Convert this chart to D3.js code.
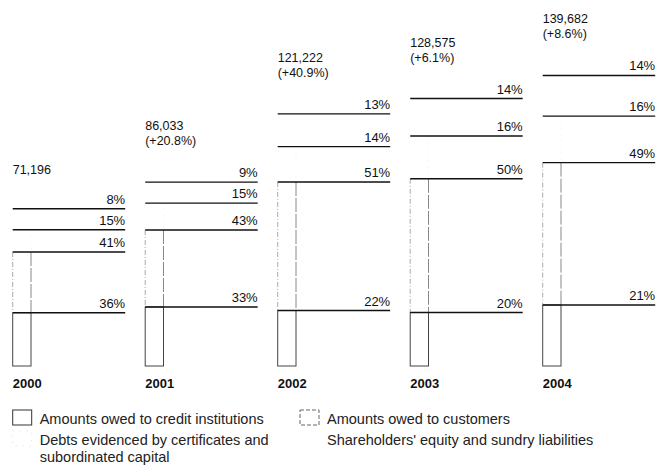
<!DOCTYPE html>
<html>
<head>
<meta charset="utf-8">
<script src="https://cdn.jsdelivr.net/npm/d3@7"></script>
<style>
  html, body { margin: 0; padding: 0; background: #fff; }
  svg { display: block; font-family: "Liberation Sans", Arial, sans-serif; }
</style>
</head>
<body>
<svg id="chart" width="658" height="473"></svg>
<script>
// ---- data ----
const years = ["2000", "2001", "2002", "2003", "2004"];
const totals = [71196, 86033, 121222, 128575, 139682];
const changes = [null, "+20.8%", "+40.9%", "+6.1%", "+8.6%"];
const creditInstitutions = [36, 33, 22, 20, 21];
const customers = [41, 43, 51, 50, 49];
const debts = [15, 15, 14, 16, 16];
const equity = [8, 9, 13, 14, 14];
const seriesNames = [
  "Amounts owed to credit institutions",
  "Amounts owed to customers",
  "Debts evidenced by certificates and subordinated capital",
  "Shareholders' equity and sundry liabilities"
];

// ---- layout ----
const svg = d3.select("#chart");
const baseY = 366;
const x = d3.scaleBand().domain(years).range([12.7, 655.2]).paddingInner(0.151).paddingOuter(0);
const y = d3.scaleLinear().domain([0, 140000]).range([baseY, baseY - 291.2]);
const barW = 18.3;
const minGap = 21;

const seriesPct = [creditInstitutions, customers, debts, equity];

years.forEach((yr, i) => {
  const g = svg.append("g");
  const x0 = x(yr);
  const x1 = x0 + x.bandwidth();
  let cum = 0;
  let prevLineY = baseY + 100;
  const segs = [];
  seriesPct.forEach((arr, s) => {
    const pct = arr[i];
    const yBot = y(totals[i] * cum / 100);
    cum += pct;
    const yTop = y(totals[i] * cum / 100);
    const lineY = Math.min(yTop, prevLineY - minGap);
    segs.push({s, pct, yBot, yTop, lineY});
    prevLineY = lineY;
  });

  // bar segments
  segs.forEach(d => {
    if (d.s === 0) {
      g.append("rect").attr("x", x0).attr("y", d.yTop).attr("width", barW)
        .attr("height", d.yBot - d.yTop).attr("fill", "none")
        .attr("stroke", "#444").attr("stroke-width", 1);
    } else if (d.s === 1) {
      g.append("line").attr("x1", x0).attr("x2", x0).attr("y1", d.yTop).attr("y2", d.yBot)
        .attr("stroke", "#aaa").attr("stroke-width", 1).attr("stroke-dasharray", "5,2,1,2");
      g.append("line").attr("x1", x0 + barW).attr("x2", x0 + barW).attr("y1", d.yTop).attr("y2", d.yBot)
        .attr("stroke", "#888").attr("stroke-width", 1).attr("stroke-dasharray", "14,2");
    } else if (d.s === 2) {
      g.append("line").attr("x1", x0 + barW).attr("x2", x0 + barW).attr("y1", d.yTop).attr("y2", d.yBot)
        .attr("stroke", "#eee").attr("stroke-width", 1).attr("stroke-dasharray", "1,5");
    }
  });

  // level lines and percentage labels
  segs.forEach(d => {
    g.append("line").attr("x1", x0).attr("x2", x1).attr("y1", d.lineY).attr("y2", d.lineY)
      .attr("stroke", "#111").attr("stroke-width", 1.4);
    g.append("text").attr("x", x1).attr("y", d.lineY - 5).attr("text-anchor", "end")
      .attr("font-size", 13).attr("fill", "#111").text(d.pct + "%");
  });

  // total labels
  const topY = segs[segs.length - 1].lineY;
  if (changes[i]) {
    g.append("text").attr("x", x0).attr("y", topY - 52).attr("font-size", 12.5).attr("fill", "#111")
      .text(d3.format(",")(totals[i]));
    g.append("text").attr("x", x0).attr("y", topY - 37).attr("font-size", 12.5).attr("fill", "#111")
      .text("(" + changes[i] + ")");
  } else {
    g.append("text").attr("x", x0).attr("y", topY - 35).attr("font-size", 12.5).attr("fill", "#111")
      .text(d3.format(",")(totals[i]));
  }

  // year label
  g.append("text").attr("x", x0).attr("y", 388).attr("font-size", 13).attr("font-weight", "bold")
    .attr("fill", "#111").text(yr);
});

// ---- legend ----
const legend = svg.append("g").attr("font-size", 14.5).attr("fill", "#222");
const legendItems = [
  {x: 12.7, y: 410, lines: [seriesNames[0]], style: {stroke: "#333", dash: null}},
  {x: 300, y: 410, lines: [seriesNames[1]], style: {stroke: "#666", dash: "4,2"}},
  {x: 12.7, y: 431, lines: ["Debts evidenced by certificates and", "subordinated capital"], style: {stroke: "#ddd", dash: "1,6"}},
  {x: 300, y: 431, lines: [seriesNames[3]], style: null}
];
legendItems.forEach(it => {
  if (it.style) {
    legend.append("rect").attr("x", it.x).attr("y", it.y).attr("width", 19).attr("height", 15)
      .attr("fill", "none").attr("stroke", it.style.stroke).attr("stroke-width", 1)
      .attr("stroke-dasharray", it.style.dash);
  }
  it.lines.forEach((t, k) => {
    legend.append("text").attr("x", it.x + 27).attr("y", it.y + 14 + k * 17).text(t);
  });
});
</script>
</body>
</html>
